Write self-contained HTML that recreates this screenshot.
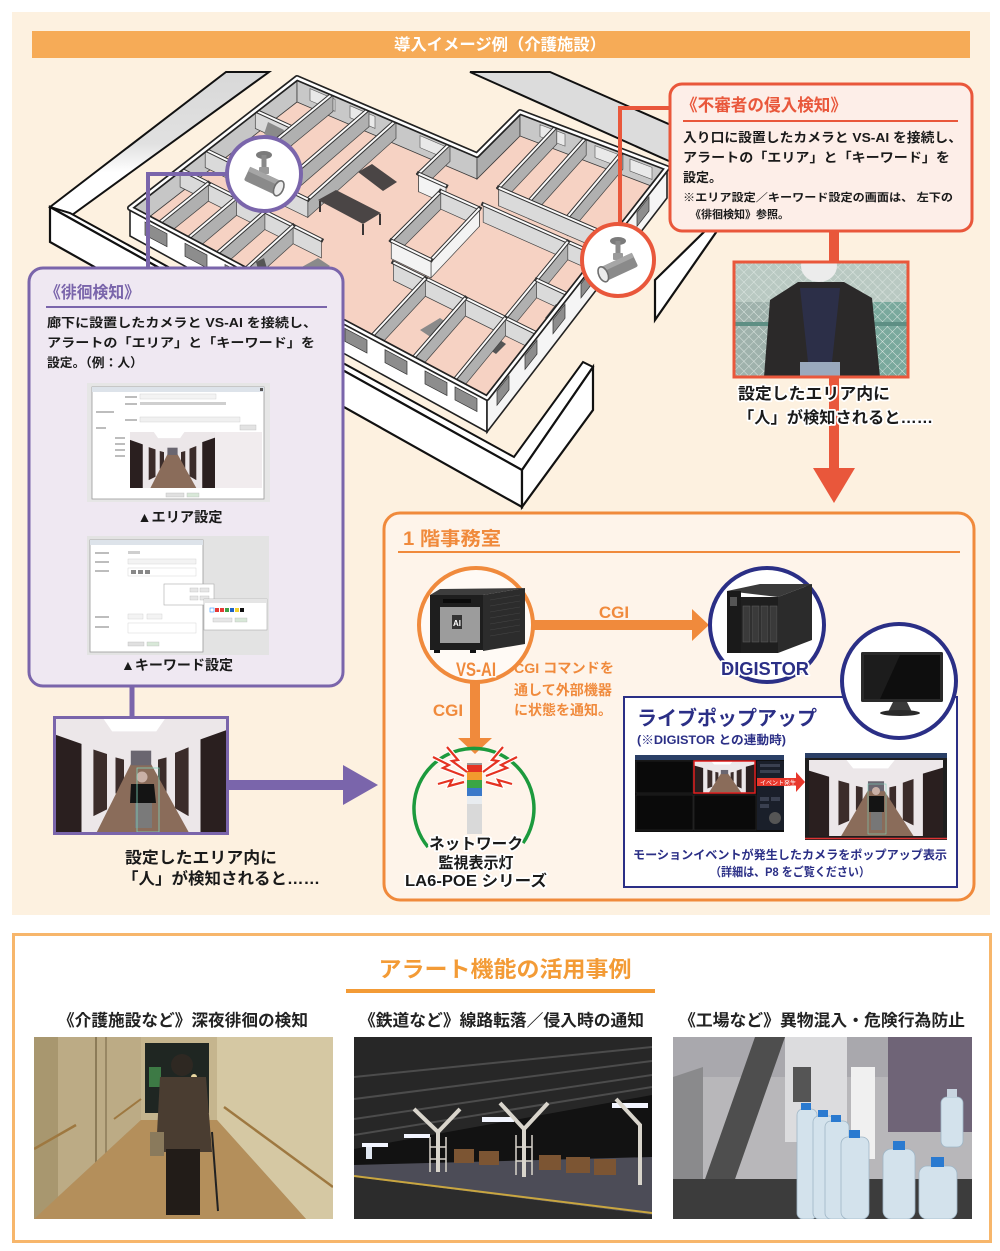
<!DOCTYPE html>
<html><head><meta charset="utf-8">
<style>
html,body{margin:0;padding:0;background:#fff;}
svg{display:block;}
text{font-family:"Liberation Sans","Noto Sans CJK JP",sans-serif;}
.b{font-weight:700;}
.halo{paint-order:stroke;stroke:#fff;stroke-width:3.5px;stroke-linejoin:round;}
.fu{fill:#dadada;stroke:#444;stroke-width:0.7;}
.fv{fill:#b0b0b0;stroke:#444;stroke-width:0.7;}
.fw{fill:#f3f3f3;stroke:#444;stroke-width:0.7;}
.t1{stroke:#333;stroke-width:4;fill:none;stroke-linecap:square;}
.t2{stroke:#fbfbfb;stroke-width:2;fill:none;}
.win{fill:#8d8d8d;stroke:#333;stroke-width:0.7;}
.bwin{fill:#e9e9e9;stroke:#555;stroke-width:0.6;}
</style></head><body>
<svg width="1000" height="1251" viewBox="0 0 1000 1251" xmlns="http://www.w3.org/2000/svg">
<defs>
 <linearGradient id="lband" x1="0" y1="72" x2="0" y2="216" gradientUnits="userSpaceOnUse">
  <stop offset="0" stop-color="#d8d8d8"/><stop offset="0.5" stop-color="#e1e1e1"/><stop offset="0.7" stop-color="#ffffff"/>
 </linearGradient>
 <pattern id="fence" width="7" height="7" patternUnits="userSpaceOnUse" patternTransform="rotate(45)">
  <path d="M0 0 H7 M0 0 V7" stroke="#dfe8e4" stroke-width="0.9" fill="none"/>
 </pattern>
 <symbol id="corr" viewBox="0 0 100 100" preserveAspectRatio="none">
  <rect width="100" height="100" fill="#ece7e9"/>
  <polygon points="28,0 64,0 59,11 33,11" fill="#ffffff"/>
  <polygon points="0,14 15,22 15,100 0,100" fill="#2a1f1f"/>
  <polygon points="22,27 30,31 30,80 22,86" fill="#3b2c2a"/>
  <polygon points="35,34 40,36 40,63 35,66" fill="#3b2c2a"/>
  <polygon points="60,36 65,34 65,65 60,62" fill="#3b2c2a"/>
  <polygon points="70,30 78,25 78,86 70,79" fill="#3b2c2a"/>
  <polygon points="85,18 100,10 100,100 85,100" fill="#2a1f1f"/>
  <polygon points="24,100 44,40 56,40 78,100" fill="#8a6c5a"/>
  <rect x="44" y="28" width="12" height="13" fill="#6a6670"/>
 </symbol>
 <symbol id="cam" viewBox="0 0 60 60">
  <ellipse cx="30" cy="11" rx="8" ry="4" fill="#7b7b7b"/>
  <rect x="27.5" y="11" width="5" height="15" fill="#8a8a8a"/>
  <rect x="25" y="23" width="10" height="7" rx="1" fill="#9a9a9a"/>
  <g transform="rotate(25 30 38)">
   <rect x="11" y="30" width="35" height="15" rx="2" fill="#8a8a8a"/>
   <rect x="11" y="30" width="35" height="5" fill="#a6a6a6"/>
   <ellipse cx="46" cy="37.5" rx="4.5" ry="8" fill="#ececec" stroke="#6e6e6e" stroke-width="1.6"/>
  </g>
 </symbol>
</defs>

<rect x="12" y="12" width="978" height="903" fill="#fdf1e0"/>
<rect x="32" y="31" width="938" height="27" fill="#f6ab57"/>
<text x="500" y="50" text-anchor="middle" font-size="16" fill="#fff" class="b" textLength="212" lengthAdjust="spacingAndGlyphs">導入イメージ例（介護施設）</text>

<!-- site outer walls -->
<polygon points="50,207 226,72 269,72 72,215" fill="url(#lband)" stroke="#111" stroke-width="2"/>
<polygon points="470,72 550,72 680,129 680,166" fill="#dcdcdc" stroke="#111" stroke-width="2"/>
<polygon points="50,207 522,470 593,367 583,362 514,457 70,213" fill="#fff" stroke="#111" stroke-width="2"/>
<polygon points="50,207 522,470 522,507 50,242" fill="#fff" stroke="#111" stroke-width="2.2"/>
<polygon points="522,470 593,367 593,410 522,507" fill="#fff" stroke="#111" stroke-width="2.2"/>
<polygon points="655,280 705,231 717,231 655,320" fill="#fff" stroke="#111" stroke-width="2.2"/>

<!-- building floor -->
<polygon points="130,208 297,78 477,155 520,112 667,168 487,398" fill="#f6d2c3"/>
<polygon points="130,208 297,78 297,102 130,232" fill="#c6c6c6" stroke="#3b3b3b" stroke-width="0.8"/>
<polygon points="297,78 477,155 477,179 297,102" fill="#c8c8c8" stroke="#3b3b3b" stroke-width="0.8"/>
<polygon points="310,88.6 335,99.3 335,111.3 310,100.6" class="bwin"/>
<polygon points="350,105.7 375,116.4 375,128.4 350,117.7" class="bwin"/>
<polygon points="420,135.6 445,146.3 445,158.3 420,147.6" class="bwin"/>
<polygon points="477,155 520,112 520,136 477,179" fill="#adadad" stroke="#3b3b3b" stroke-width="0.8"/>
<polygon points="520,112 667,168 667,192 520,136" fill="#c8c8c8" stroke="#3b3b3b" stroke-width="0.8"/>
<polygon points="540,124.6 565,134.1 565,146.1 540,136.6" class="bwin"/>
<polygon points="595,145.6 618,154.4 618,166.4 595,157.6" class="bwin"/>
<polygon points="630,159 652,167.4 652,179.4 630,171" class="bwin"/>

<!-- interior walls -->
<path class="fu" d="M255.3 110.5 L291.9 127.2 L291.9 145.2 L255.3 128.5 Z"/><path class="t1" d="M255.3 110.5 L291.9 127.2"/><path class="t2" d="M255.3 110.5 L291.9 127.2"/>
<g fill="#8a8a8a"><polygon points="268,122 284,130 280,142 264,134"/></g>
<path class="fv" d="M418.6 173.7 L450 143.5 L450 161.5 L418.6 191.7 Z"/><path class="t1" d="M418.6 173.7 L450 143.5"/><path class="t2" d="M418.6 173.7 L450 143.5"/>
<path class="fw" d="M418.6 173.7 L446 186 L446 204 L418.6 191.7 Z"/><path class="t1" d="M418.6 173.7 L446 186"/><path class="t2" d="M418.6 173.7 L446 186"/>
<path class="fv" d="M242.5 167.7 L333 93.4 L333 111.4 L242.5 185.7 Z"/><path class="t1" d="M242.5 167.7 L333 93.4"/><path class="t2" d="M242.5 167.7 L333 93.4"/>
<path class="fv" d="M279.8 185.8 L369 108.8 L369 126.8 L279.8 203.8 Z"/><path class="t1" d="M279.8 185.8 L369 108.8"/><path class="t2" d="M279.8 185.8 L369 108.8"/>
<path class="fv" d="M307.8 199.4 L396 120.4 L396 138.4 L307.8 217.4 Z"/><path class="t1" d="M307.8 199.4 L396 120.4"/><path class="t2" d="M307.8 199.4 L396 120.4"/>
<path class="fv" d="M498.7 187.8 L556.8 126 L556.8 144 L498.7 205.8 Z"/><path class="t1" d="M498.7 187.8 L556.8 126"/><path class="t2" d="M498.7 187.8 L556.8 126"/>
<path class="fv" d="M529.2 200.9 L586.2 137.2 L586.2 155.2 L529.2 218.9 Z"/><path class="t1" d="M529.2 200.9 L586.2 137.2"/><path class="t2" d="M529.2 200.9 L586.2 137.2"/>
<path class="fv" d="M567.3 217.3 L622.9 151.2 L622.9 169.2 L567.3 235.3 Z"/><path class="t1" d="M567.3 217.3 L622.9 151.2"/><path class="t2" d="M567.3 217.3 L622.9 151.2"/>
<path class="fu" d="M205.2 149.5 L307.8 199.4 L307.8 217.4 L205.2 167.5 Z"/><path class="t1" d="M205.2 149.5 L307.8 199.4"/><path class="t2" d="M205.2 149.5 L307.8 199.4"/>
<path class="fu" d="M498.7 187.8 L613 237 L613 255 L498.7 205.8 Z"/><path class="t1" d="M498.7 187.8 L613 237"/><path class="t2" d="M498.7 187.8 L613 237"/>
<path class="fu" d="M483.2 204.3 L598.6 255.4 L598.6 273.4 L483.2 222.3 Z"/><path class="t1" d="M483.2 204.3 L598.6 255.4"/><path class="t2" d="M483.2 204.3 L598.6 255.4"/>
<path class="fv" d="M391.3 240.7 L440.8 191.2 L440.8 209.2 L391.3 258.7 Z"/><path class="t1" d="M391.3 240.7 L440.8 191.2"/><path class="t2" d="M391.3 240.7 L440.8 191.2"/>
<path class="fu" d="M440.8 191.2 L479.4 208.4 L479.4 226.4 L440.8 209.2 Z"/><path class="t1" d="M440.8 191.2 L479.4 208.4"/><path class="t2" d="M440.8 191.2 L479.4 208.4"/>
<path class="fw" d="M431 259.9 L479.4 208.4 L479.4 226.4 L431 277.9 Z"/><path class="t1" d="M431 259.9 L479.4 208.4"/><path class="t2" d="M431 259.9 L479.4 208.4"/>
<path class="fw" d="M391.3 240.7 L431 259.9 L431 277.9 L391.3 258.7 Z"/><path class="t1" d="M391.3 240.7 L431 259.9"/><path class="t2" d="M391.3 240.7 L431 259.9"/>
<polygon points="358,172 372,164 397,182 383,191" fill="#4a4545"/>
<polygon points="318,200 336,190 381,213 363,224" fill="#4a4545"/>
<path d="M320 201 V212 M363 224 V235 M380 214 V225" stroke="#3a3535" stroke-width="2"/>
<path class="fu" d="M180.1 169 L321.4 239.9 L321.4 257.9 L180.1 187 Z"/><path class="t1" d="M180.1 169 L321.4 239.9"/><path class="t2" d="M180.1 169 L321.4 239.9"/>
<path class="fv" d="M158.8 223.3 L208.4 183.2 L208.4 201.2 L158.8 241.3 Z"/><path class="t1" d="M158.8 223.3 L208.4 183.2"/><path class="t2" d="M158.8 223.3 L208.4 183.2"/>
<path class="fv" d="M187.6 238.6 L236.6 197.3 L236.6 215.3 L187.6 256.6 Z"/><path class="t1" d="M187.6 238.6 L236.6 197.3"/><path class="t2" d="M187.6 238.6 L236.6 197.3"/>
<path class="fv" d="M216.4 253.9 L264.9 211.5 L264.9 229.5 L216.4 271.9 Z"/><path class="t1" d="M216.4 253.9 L264.9 211.5"/><path class="t2" d="M216.4 253.9 L264.9 211.5"/>
<polygon points="300,268 318,258 330,266 312,276" fill="#8a8a8a"/>
<path class="fv" d="M245.2 269.2 L293.1 225.7 L293.1 243.7 L245.2 287.2 Z"/><path class="t1" d="M245.2 269.2 L293.1 225.7"/><path class="t2" d="M245.2 269.2 L293.1 225.7"/>
<polygon points="256,262 264,258 268,272 260,276" fill="#555"/>
<path class="fv" d="M505.4 317.8 L567.8 241.8 L567.8 259.8 L505.4 335.8 Z"/><path class="t1" d="M505.4 317.8 L567.8 241.8"/><path class="t2" d="M505.4 317.8 L567.8 241.8"/>
<path class="fu" d="M536.6 279.8 L568 294.5 L568 312.5 L536.6 297.8 Z"/><path class="t1" d="M536.6 279.8 L568 294.5"/><path class="t2" d="M536.6 279.8 L568 294.5"/>
<polygon points="545,318 556,304 561,307 550,321" fill="#555"/>
<path class="fu" d="M393.4 262.5 L537.4 333.6 L537.4 351.6 L393.4 280.5 Z"/><path class="t1" d="M393.4 262.5 L537.4 333.6"/><path class="t2" d="M393.4 262.5 L537.4 333.6"/>
<path class="fv" d="M371.5 336.4 L425.4 278.3 L425.4 296.3 L371.5 354.4 Z"/><path class="t1" d="M371.5 336.4 L425.4 278.3"/><path class="t2" d="M371.5 336.4 L425.4 278.3"/>
<polygon points="420,330 440,318 452,326 432,338" fill="#8a8a8a"/>
<path class="fv" d="M412.8 358.4 L465.4 298 L465.4 316 L412.8 376.4 Z"/><path class="t1" d="M412.8 358.4 L465.4 298"/><path class="t2" d="M412.8 358.4 L465.4 298"/>
<polygon points="490,350 500,340 506,344 496,354" fill="#555"/>
<path class="fv" d="M454 380.4 L505.4 317.8 L505.4 335.8 L454 398.4 Z"/><path class="t1" d="M454 380.4 L505.4 317.8"/><path class="t2" d="M454 380.4 L505.4 317.8"/>

<!-- building front faces -->
<polygon points="130,208 487,398 487,432 130,236" fill="#fff" stroke="#222" stroke-width="1.6"/>
<polygon points="487,398 667,168 667,198 487,432" fill="#f5f5f5" stroke="#222" stroke-width="1.6"/>
<polygon class="win" points="145,222 167,233.7 167,246.7 145,235"/>
<polygon class="win" points="185,243.3 207,255 207,268 185,256.3"/>
<polygon class="win" points="225,264.5 247,276.2 247,289.2 225,277.5"/>
<polygon class="win" points="265,285.8 287,297.5 287,310.5 265,298.8"/>
<polygon class="win" points="305,307.1 327,318.8 327,331.8 305,320.1"/>
<polygon class="win" points="345,328.4 367,340.1 367,353.1 345,341.4"/>
<polygon class="win" points="385,349.7 407,361.4 407,374.4 385,362.7"/>
<polygon class="win" points="425,370.9 447,382.6 447,395.6 425,383.9"/>
<polygon class="win" points="455,386.9 477,398.6 477,411.6 455,399.9"/>
<polygon class="win" points="497,391.2 509,375.9 509,389.9 497,405.2"/>
<polygon class="win" points="525,355.4 537,340.1 537,354.1 525,369.4"/>
<polygon class="win" points="553,319.7 565,304.3 565,318.3 553,333.7"/>
<polygon class="win" points="581,283.9 593,268.5 593,282.5 581,297.9"/>
<polygon class="win" points="609,248.1 621,232.7 621,246.7 609,262.1"/>
<polygon class="win" points="637,212.3 649,197 649,211 637,226.3"/>
<path d="M130 208 L297 78 L477 155 L520 112 L667 168 L487 398 Z" stroke="#222" stroke-width="6" fill="none" stroke-linejoin="round"/>
<path d="M130 208 L297 78 L477 155 L520 112 L667 168 L487 398 Z" stroke="#fff" stroke-width="2.6" fill="none" stroke-linejoin="round"/>

<!-- connectors to cameras -->
<polyline points="228,174 148,174 148,270" fill="none" stroke="#7a65ab" stroke-width="4"/>
<polyline points="672,108 620,108 620,226" fill="none" stroke="#e9573b" stroke-width="4"/>
<circle cx="264" cy="174" r="37" fill="#fff" stroke="#7a65ab" stroke-width="4"/>
<use href="#cam" x="234" y="144" width="60" height="60"/>
<circle cx="618" cy="260" r="36" fill="#fff" stroke="#e9573b" stroke-width="4"/>
<use href="#cam" x="0" y="0" width="60" height="60" transform="translate(648 230) scale(-1 1)"/>

<!-- right callout -->
<rect x="670" y="84" width="302" height="147" rx="12" fill="#fdeee8" stroke="#e9573b" stroke-width="3"/>
<text x="681" y="111" font-size="17" fill="#e9573b" class="b" textLength="166" lengthAdjust="spacingAndGlyphs">《不審者の侵入検知》</text>
<line x1="683" y1="121" x2="958" y2="121" stroke="#e9573b" stroke-width="2"/>
<text x="683" y="142" font-size="13" fill="#1a1a1a" class="b" textLength="279" lengthAdjust="spacingAndGlyphs">入り口に設置したカメラと VS-AI を接続し、</text>
<text x="683" y="162" font-size="13" fill="#1a1a1a" class="b" textLength="267" lengthAdjust="spacingAndGlyphs">アラートの「エリア」と「キーワード」を</text>
<text x="683" y="182" font-size="13" fill="#1a1a1a" class="b">設定。</text>
<text x="683" y="201" font-size="11" fill="#1a1a1a" class="b" textLength="270" lengthAdjust="spacingAndGlyphs">※エリア設定／キーワード設定の画面は、 左下の</text>
<text x="690" y="218" font-size="11" fill="#1a1a1a" class="b">《徘徊検知》参照。</text>

<rect x="829" y="231" width="10" height="32" fill="#e9573b"/>
<rect x="829" y="376" width="10" height="94" fill="#e9573b"/>
<polygon points="813,468 855,468 834,503" fill="#e9573b"/>
<svg x="734" y="262" width="174" height="115">
 <rect width="174" height="115" fill="#7aa99d"/>
 <rect width="174" height="40" fill="#b9c9c2"/>
 <rect x="0" y="40" width="40" height="75" fill="#9fb2ac"/>
 <rect width="174" height="115" fill="url(#fence)"/>
 <rect x="0" y="60" width="174" height="4" fill="#5e8f84"/>
 <polygon points="36,38 64,20 110,20 138,36 146,115 30,115" fill="#2b2929"/>
 <polygon points="66,26 106,26 98,100 74,100" fill="#2c2f48"/>
 <ellipse cx="85" cy="4" rx="18" ry="16" fill="#ececec"/>
 <rect x="66" y="100" width="40" height="15" fill="#9aa9bd"/>
</svg>
<rect x="734" y="262" width="174" height="115" fill="none" stroke="#e9573b" stroke-width="3"/>
<text x="738" y="399" font-size="16" fill="#1a1a1a" class="b halo" textLength="152" lengthAdjust="spacingAndGlyphs">設定したエリア内に</text>
<text x="738" y="423" font-size="16" fill="#1a1a1a" class="b halo" textLength="195" lengthAdjust="spacingAndGlyphs">「人」が検知されると……</text>

<!-- left purple callout -->
<rect x="29" y="268" width="314" height="418" rx="14" fill="#efe8f2" stroke="#7a65ab" stroke-width="3"/>
<text x="45" y="298" font-size="16.5" fill="#7a65ab" class="b" textLength="95" lengthAdjust="spacingAndGlyphs">《徘徊検知》</text>
<line x1="46" y1="307" x2="327" y2="307" stroke="#7a65ab" stroke-width="2"/>
<text x="47" y="327" font-size="12.5" fill="#1a1a1a" class="b" textLength="270" lengthAdjust="spacingAndGlyphs">廊下に設置したカメラと VS-AI を接続し、</text>
<text x="47" y="347" font-size="12.5" fill="#1a1a1a" class="b" textLength="268" lengthAdjust="spacingAndGlyphs">アラートの「エリア」と「キーワード」を</text>
<text x="47" y="367" font-size="12.5" fill="#1a1a1a" class="b" textLength="96" lengthAdjust="spacingAndGlyphs">設定。（例：人）</text>
<rect x="87" y="383" width="183" height="119" fill="#e6e6e6"/>
<rect x="92" y="387" width="172" height="112" fill="#fff" stroke="#9a9a9a" stroke-width="0.8"/>
<rect x="92" y="387" width="172" height="5" fill="#dde3ea"/>
<rect x="260" y="388" width="3" height="3" fill="#555"/>
<g fill="#bdbdbd"><rect x="125" y="396" width="12" height="2"/><rect x="125" y="403" width="12" height="2"/><rect x="96" y="411" width="18" height="2"/><rect x="125" y="419" width="12" height="2"/><rect x="96" y="427" width="10" height="2"/><rect x="115" y="437" width="10" height="2"/><rect x="115" y="443" width="10" height="2"/><rect x="115" y="449" width="10" height="2"/><rect x="115" y="455" width="10" height="2"/></g>
<rect x="140" y="394" width="76" height="5" fill="#f3f3f3" stroke="#ccc" stroke-width="0.4"/>
<rect x="140" y="402" width="86" height="3" fill="#cfcfcf"/>
<rect x="140" y="417" width="100" height="5" fill="#f0f0f0" stroke="#ccc" stroke-width="0.4"/>
<rect x="240" y="425" width="16" height="5" fill="#e3e3e3" stroke="#bbb" stroke-width="0.4"/>
<rect x="130" y="432" width="132" height="56" fill="#f1ecee"/>
<use href="#corr" x="130" y="432" width="85" height="56"/>
<rect x="166" y="493" width="18" height="4" fill="#e0e0e0" stroke="#bbb" stroke-width="0.4"/>
<rect x="187" y="493" width="12" height="4" fill="#d8e8d8" stroke="#bbb" stroke-width="0.4"/>
<text x="180" y="522" text-anchor="middle" font-size="14" fill="#1a1a1a" class="b" textLength="85" lengthAdjust="spacingAndGlyphs">▲エリア設定</text>
<rect x="87" y="536" width="182" height="119" fill="#e3e3e3"/>
<rect x="90" y="540" width="113" height="112" fill="#fff" stroke="#9a9a9a" stroke-width="0.8"/>
<rect x="90" y="540" width="113" height="5" fill="#dde3ea"/>
<g fill="#bdbdbd"><rect x="95" y="552" width="14" height="2"/><rect x="95" y="561" width="14" height="2"/><rect x="95" y="570" width="14" height="2"/><rect x="95" y="616" width="14" height="2"/><rect x="95" y="626" width="14" height="2"/></g>
<rect x="128" y="551" width="12" height="3" fill="#cfcfcf"/>
<rect x="128" y="559" width="68" height="5" fill="#f3f3f3" stroke="#ccc" stroke-width="0.4"/>
<rect x="128" y="568" width="68" height="8" fill="#fff" stroke="#ccc" stroke-width="0.4"/>
<g fill="#888"><rect x="131" y="570" width="5" height="4"/><rect x="138" y="570" width="5" height="4"/><rect x="145" y="570" width="5" height="4"/></g>
<rect x="128" y="614" width="15" height="5" fill="#f3f3f3" stroke="#ccc" stroke-width="0.4"/>
<rect x="147" y="614" width="15" height="5" fill="#f3f3f3" stroke="#ccc" stroke-width="0.4"/>
<rect x="128" y="623" width="68" height="10" fill="#fff" stroke="#ccc" stroke-width="0.4"/>
<rect x="128" y="642" width="16" height="4" fill="#e0e0e0" stroke="#bbb" stroke-width="0.4"/>
<rect x="147" y="642" width="12" height="4" fill="#d8e8d8" stroke="#bbb" stroke-width="0.4"/>
<rect x="164" y="584" width="50" height="21" fill="#fff" stroke="#aaa" stroke-width="0.6"/>
<g fill="#e6e6e6" stroke="#bbb" stroke-width="0.4"><rect x="190" y="588" width="8" height="4"/><rect x="200" y="588" width="9" height="4"/><rect x="190" y="596" width="8" height="4"/><rect x="200" y="596" width="9" height="4"/></g>
<rect x="204" y="599" width="63" height="31" fill="#fff" stroke="#aaa" stroke-width="0.6"/>
<rect x="204" y="599" width="63" height="4" fill="#e5e5e5"/>
<rect x="210" y="608" width="4" height="4" fill="#fff" stroke="#39f" stroke-width="0.6"/>
<rect x="215" y="608" width="4" height="4" fill="#e53935"/>
<rect x="220" y="608" width="4" height="4" fill="#e53935"/>
<rect x="225" y="608" width="4" height="4" fill="#43a047"/>
<rect x="230" y="608" width="4" height="4" fill="#1e63c6"/>
<rect x="235" y="608" width="4" height="4" fill="#f2d230"/>
<rect x="240" y="608" width="4" height="4" fill="#111"/>
<rect x="213" y="618" width="19" height="4" fill="#e6e6e6" stroke="#bbb" stroke-width="0.4"/>
<rect x="235" y="618" width="12" height="4" fill="#d8e8d8" stroke="#bbb" stroke-width="0.4"/>
<text x="177" y="670" text-anchor="middle" font-size="14" fill="#1a1a1a" class="b" textLength="112" lengthAdjust="spacingAndGlyphs">▲キーワード設定</text>

<rect x="129.5" y="686" width="5" height="32" fill="#7a65ab"/>
<use href="#corr" x="56" y="719" width="170" height="113"/>
<circle cx="142" cy="777" r="5.5" fill="#c9b0a6"/>
<polygon points="131,784 154,784 156,803 130,803" fill="#141414"/>
<rect x="135" y="803" width="17" height="25" fill="#7a7a7a"/>
<rect x="137" y="768" width="22" height="64" fill="none" stroke="#7fd1b9" stroke-width="0.8"/>
<rect x="54.5" y="717.5" width="173" height="116" fill="none" stroke="#7a65ab" stroke-width="3"/>
<rect x="228" y="780" width="117" height="10" fill="#7a65ab"/>
<polygon points="343,765 378,785 343,805" fill="#7a65ab"/>
<text x="125" y="863" font-size="16" fill="#1a1a1a" class="b" textLength="152" lengthAdjust="spacingAndGlyphs">設定したエリア内に</text>
<text x="122" y="884" font-size="16" fill="#1a1a1a" class="b" textLength="198" lengthAdjust="spacingAndGlyphs">「人」が検知されると……</text>

<!-- office box -->
<rect x="384" y="513" width="590" height="387" rx="16" fill="#fef4ea" stroke="#f08a3c" stroke-width="3"/>
<text x="403" y="545" font-size="19" fill="#f08a3c" class="b" textLength="98" lengthAdjust="spacingAndGlyphs">1 階事務室</text>
<line x1="398" y1="552" x2="960" y2="552" stroke="#f08a3c" stroke-width="2"/>
<rect x="533" y="620" width="162" height="10" fill="#f08a3c"/>
<polygon points="692,609 709,625 692,641" fill="#f08a3c"/>
<text x="614" y="618" text-anchor="middle" font-size="17" fill="#f08a3c" class="b">CGI</text>
<rect x="470" y="682" width="10" height="58" fill="#f08a3c"/>
<polygon points="458,738 492,738 475,754" fill="#f08a3c"/>
<text x="448" y="716" text-anchor="middle" font-size="17" fill="#f08a3c" class="b">CGI</text>
<text x="514" y="673" font-size="14" fill="#f08a3c" class="b" textLength="100" lengthAdjust="spacingAndGlyphs">CGI コマンドを</text>
<text x="514" y="695" font-size="14" fill="#f08a3c" class="b" textLength="98" lengthAdjust="spacingAndGlyphs">通して外部機器</text>
<text x="514" y="715" font-size="14" fill="#f08a3c" class="b" textLength="98" lengthAdjust="spacingAndGlyphs">に状態を通知。</text>

<circle cx="476" cy="625" r="57" fill="#fffaf5" stroke="#f08a3c" stroke-width="4"/>
<polygon points="430,595 440,589 525,588 483,595" fill="#3d3d3d"/>
<rect x="430" y="595" width="53" height="55" fill="#1e1e1e"/>
<polygon points="483,595 525,588 525,644 483,651" fill="#2c2c2c"/>
<g stroke="#444" stroke-width="0.6"><path d="M490 600 L520 595 M490 606 L520 601 M490 612 L520 607 M490 618 L520 613 M490 624 L520 619 M490 630 L520 625 M490 636 L520 631"/></g>
<rect x="440" y="607" width="40" height="36" fill="#9c9c9c"/>
<rect x="443" y="599" width="28" height="4" fill="#0b0b0b"/>
<rect x="452" y="615" width="10" height="14" fill="#333"/>
<text x="457" y="626" text-anchor="middle" font-size="8" fill="#fff" class="b">AI</text>
<rect x="434" y="650" width="6" height="3" fill="#111"/><rect x="470" y="650" width="6" height="3" fill="#111"/>
<text x="476" y="676" text-anchor="middle" font-size="19" fill="#f08a3c" class="b" style="font-family:'Liberation Sans Narrow','Liberation Sans',sans-serif;paint-order:stroke;stroke:#fffaf5;stroke-width:3px;" textLength="40" lengthAdjust="spacingAndGlyphs">VS-AI</text>

<circle cx="767" cy="625" r="57" fill="#fff" stroke="#2b2f86" stroke-width="4"/>
<polygon points="727,591 760,584 812,584 778,597" fill="#3a3a3a"/>
<rect x="727" y="591" width="14" height="62" fill="#1a1a1a"/>
<rect x="741" y="597" width="37" height="56" fill="#1f1f1f"/>
<polygon points="778,597 812,584 812,640 778,653" fill="#2b2b2b"/>
<g fill="#3a3a3a" stroke="#5a5a5a" stroke-width="0.6"><rect x="743" y="606" width="7" height="36"/><rect x="752" y="606" width="7" height="36"/><rect x="761" y="606" width="7" height="36"/><rect x="770" y="606" width="7" height="36"/></g>
<rect x="730" y="597" width="7" height="9" fill="#555"/>
<text x="765" y="675" text-anchor="middle" font-size="18" fill="#2b2f86" class="b halo" textLength="88" lengthAdjust="spacingAndGlyphs">DIGISTOR</text>

<rect x="624" y="697" width="333" height="190" fill="#fff" stroke="#2b2f86" stroke-width="2"/>
<text x="637" y="725" font-size="20" fill="#2b2f86" class="b" textLength="180" lengthAdjust="spacingAndGlyphs">ライブポップアップ</text>
<text x="637" y="744" font-size="12" fill="#2b2f86" class="b" textLength="149" lengthAdjust="spacingAndGlyphs">(※DIGISTOR との連動時)</text>
<rect x="635" y="755" width="149" height="77" fill="#101010"/>
<rect x="635" y="755" width="149" height="5" fill="#2a3f66"/>
<rect x="636" y="761" width="57" height="32" fill="#0a0a0a" stroke="#333" stroke-width="0.5"/>
<rect x="636" y="795" width="57" height="35" fill="#0a0a0a" stroke="#333" stroke-width="0.5"/>
<rect x="694" y="795" width="62" height="35" fill="#0a0a0a" stroke="#333" stroke-width="0.5"/>
<rect x="757" y="761" width="27" height="69" fill="#1a1f2a"/>
<g fill="#3a4050"><rect x="760" y="764" width="20" height="3"/><rect x="760" y="770" width="20" height="3"/><rect x="760" y="797" width="9" height="4"/><rect x="771" y="797" width="9" height="4"/><rect x="760" y="804" width="9" height="4"/></g>
<circle cx="775" cy="818" r="6" fill="#555"/>
<use href="#corr" x="694" y="761" width="61" height="32"/>
<rect x="694" y="761" width="61" height="32" fill="none" stroke="#e01f1f" stroke-width="1.5"/>
<polygon points="757,778 796,778 796,772 805,782 796,792 796,786 757,786" fill="#e8382c"/>
<text x="760" y="785" font-size="6" fill="#fff">イベント発生</text>
<rect x="805" y="753" width="142" height="87" fill="#1e1e1e"/>
<rect x="805" y="753" width="142" height="5" fill="#2a3f66"/>
<use href="#corr" x="809" y="760" width="134" height="76"/>
<circle cx="876" cy="791" r="4" fill="#c9b0a6"/>
<rect x="869" y="796" width="15" height="16" fill="#141414"/>
<rect x="871" y="812" width="11" height="18" fill="#777"/>
<rect x="868" y="784" width="18" height="50" fill="none" stroke="#7fd1b9" stroke-width="0.6"/>
<line x1="805" y1="838.5" x2="947" y2="838.5" stroke="#d33" stroke-width="1.5"/>
<text x="790" y="859" text-anchor="middle" font-size="12" fill="#2b2f86" class="b" textLength="314" lengthAdjust="spacingAndGlyphs">モーションイベントが発生したカメラをポップアップ表示</text>
<text x="790" y="876" text-anchor="middle" font-size="12" fill="#2b2f86" class="b" textLength="160" lengthAdjust="spacingAndGlyphs">（詳細は、P8 をご覧ください）</text>

<circle cx="899" cy="681" r="57" fill="#fff" stroke="#2b2f86" stroke-width="4"/>
<rect x="861" y="652" width="82" height="50" rx="1.5" fill="#2a2a2a"/>
<rect x="864" y="655" width="76" height="44" fill="#0e0e0e"/>
<polygon points="864,655 900,655 880,699 864,699" fill="#1c1c1c"/>
<polygon points="893,702 907,702 912,712 888,712" fill="#3a3a3a"/>
<ellipse cx="900" cy="713" rx="20" ry="3" fill="#2a2a2a"/>

<path d="M428 847 A60 60 0 1 1 523 843" fill="none" stroke="#1c9a3d" stroke-width="3.5"/>
<rect x="467" y="765" width="15" height="7" fill="#e53322"/>
<rect x="467" y="772" width="15" height="8" fill="#f29a2e"/>
<rect x="467" y="780" width="15" height="8" fill="#3aa645"/>
<rect x="467" y="788" width="15" height="8" fill="#3a78c9"/>
<rect x="467" y="796" width="15" height="8" fill="#e8ecf0"/>
<rect x="467" y="804" width="15" height="30" fill="#d9d9d9"/>
<rect x="467" y="763" width="15" height="2" fill="#999"/>
<g fill="none" stroke-linejoin="miter">
 <g stroke="#fff" stroke-width="4.5">
  <polyline points="447,747 458,760 452,761 467,772"/>
  <polyline points="433,757 449,765 443,768 464,776"/>
  <polyline points="438,784 452,780 449,786 464,782"/>
  <polyline points="503,747 492,760 498,761 483,772"/>
  <polyline points="517,757 501,765 507,768 486,776"/>
  <polyline points="512,784 498,780 501,786 486,782"/>
 </g>
 <g stroke="#e53322" stroke-width="2.2">
  <polyline points="447,747 458,760 452,761 467,772"/>
  <polyline points="433,757 449,765 443,768 464,776"/>
  <polyline points="438,784 452,780 449,786 464,782"/>
  <polyline points="503,747 492,760 498,761 483,772"/>
  <polyline points="517,757 501,765 507,768 486,776"/>
  <polyline points="512,784 498,780 501,786 486,782"/>
 </g>
</g>
<text x="476" y="849" text-anchor="middle" font-size="15.5" fill="#1a1a1a" class="b halo" textLength="94" lengthAdjust="spacingAndGlyphs">ネットワーク</text>
<text x="476" y="868" text-anchor="middle" font-size="15.5" fill="#1a1a1a" class="b halo" textLength="75" lengthAdjust="spacingAndGlyphs">監視表示灯</text>
<text x="476" y="886" text-anchor="middle" font-size="15.5" fill="#1a1a1a" class="b halo" textLength="142" lengthAdjust="spacingAndGlyphs">LA6-POE シリーズ</text>

<!-- bottom section -->
<rect x="13.5" y="934.5" width="977" height="307" fill="#fff" stroke="#f7b66b" stroke-width="3"/>
<text x="505" y="977" text-anchor="middle" font-size="22" fill="#f39b36" class="b" textLength="253" lengthAdjust="spacingAndGlyphs">アラート機能の活用事例</text>
<rect x="346" y="989" width="309" height="4" fill="#f39b36"/>
<text x="58" y="1026" font-size="16.5" fill="#222" class="b" textLength="250" lengthAdjust="spacingAndGlyphs">《介護施設など》深夜徘徊の検知</text>
<text x="359" y="1026" font-size="16.5" fill="#222" class="b" textLength="285" lengthAdjust="spacingAndGlyphs">《鉄道など》線路転落／侵入時の通知</text>
<text x="679" y="1026" font-size="16.5" fill="#222" class="b" textLength="286" lengthAdjust="spacingAndGlyphs">《工場など》異物混入・危険行為防止</text>

<svg x="34" y="1037" width="299" height="182">
 <rect width="299" height="182" fill="#a99672"/>
 <polygon points="0,0 107,0 107,83 0,182" fill="#bcab85"/>
 <polygon points="0,0 24,0 24,160 0,182" fill="#a8976f"/>
 <line x1="62" y1="0" x2="62" y2="128" stroke="#8c7b58" stroke-width="2"/>
 <line x1="72" y1="0" x2="72" y2="118" stroke="#8c7b58" stroke-width="1.5"/>
 <rect x="107" y="0" width="76" height="83" fill="#c5b58e"/>
 <rect x="111" y="6" width="64" height="70" fill="#1f2622"/>
 <rect x="115" y="30" width="12" height="20" fill="#3d7a45"/>
 <circle cx="160" cy="40" r="3" fill="#e8d7a0"/>
 <polygon points="183,0 299,0 299,182 272,182 183,83" fill="#d5c8a3"/>
 <polygon points="0,182 107,83 183,83 272,182" fill="#b48f5b"/>
 <line x1="190" y1="70" x2="299" y2="150" stroke="#9e7840" stroke-width="2.5"/>
 <line x1="0" y1="112" x2="42" y2="88" stroke="#9e7840" stroke-width="2.5"/>
 <line x1="80" y1="82" x2="107" y2="62" stroke="#9e7840" stroke-width="2"/>
 <circle cx="148" cy="28" r="11" fill="#2e2822"/>
 <polygon points="126,40 172,40 178,115 122,115" fill="#4a3d31"/>
 <rect x="132" y="112" width="34" height="66" fill="#221c18"/>
 <rect x="116" y="95" width="14" height="24" fill="#8a7a5c"/>
 <line x1="178" y1="95" x2="184" y2="174" stroke="#222" stroke-width="2"/>
</svg>
<svg x="354" y="1037" width="298" height="182">
 <rect width="298" height="182" fill="#121212"/>
 <polygon points="0,0 298,0 298,58 0,112" fill="#272727"/>
 <g stroke="#4c4c4c" stroke-width="2"><line x1="0" y1="40" x2="298" y2="10"/><line x1="0" y1="62" x2="298" y2="24"/><line x1="0" y1="82" x2="298" y2="38"/><line x1="0" y1="98" x2="298" y2="50"/></g>
 <g fill="#f2f5ff"><rect x="8" y="106" width="26" height="4"/><rect x="50" y="97" width="26" height="4"/><rect x="128" y="80" width="32" height="5"/><rect x="258" y="66" width="36" height="5"/></g>
 <polygon points="0,128 298,120 298,178 0,140" fill="#4c4c57"/>
 <polygon points="0,140 298,178 298,182 0,182" fill="#2c2c2c"/>
 <line x1="0" y1="139" x2="298" y2="176" stroke="#c9a640" stroke-width="2"/>
 <g fill="none" stroke="#d9d5cc" stroke-width="4">
  <path d="M84 135 V95 L60 72 M84 95 L106 72"/>
  <path d="M170 140 V92 L146 66 M170 92 L194 66"/>
  <path d="M286 148 V88 L262 62"/>
 </g>
 <g stroke="#d9d5cc" stroke-width="1.5"><path d="M76 100 V135 M92 100 V135 M76 110 H92 M76 122 H92 M162 98 V138 M178 98 V138 M162 110 H178 M162 124 H178"/></g>
 <g fill="#7c5533"><rect x="100" y="112" width="20" height="14"/><rect x="125" y="114" width="20" height="14"/><rect x="185" y="118" width="22" height="15"/><rect x="212" y="120" width="24" height="16"/><rect x="240" y="122" width="22" height="16"/></g>
 <rect x="12" y="110" width="6" height="12" fill="#dfe6f0"/>
</svg>
<svg x="673" y="1037" width="299" height="182">
 <rect width="299" height="182" fill="#b8b7ba"/>
 <rect x="0" y="0" width="299" height="40" fill="#a9a8ad"/>
 <polygon points="215,0 299,0 299,95 215,95" fill="#6f6477"/>
 <rect x="112" y="0" width="62" height="105" fill="#dcdcde"/>
 <rect x="120" y="30" width="18" height="35" fill="#555"/>
 <polygon points="0,40 30,30 30,182 0,182" fill="#8a8a8c"/>
 <polygon points="18,182 48,182 112,0 82,0" fill="#4e4e4e"/>
 <rect x="178" y="30" width="24" height="92" fill="#f0f0f0"/>
 <rect x="0" y="142" width="299" height="40" fill="#3c3c3c"/>
 <g fill="#d3e2ec" stroke="#9fb6c6" stroke-width="0.8">
  <rect x="124" y="72" width="20" height="110" rx="6"/>
  <rect x="140" y="79" width="22" height="103" rx="6"/>
  <rect x="152" y="84" width="24" height="98" rx="6"/>
  <rect x="168" y="100" width="28" height="82" rx="7"/>
  <rect x="210" y="112" width="32" height="70" rx="8"/>
  <rect x="246" y="129" width="38" height="53" rx="8"/>
  <rect x="268" y="60" width="22" height="50" rx="6"/>
 </g>
 <g fill="#2a7ad0"><rect x="128" y="66" width="10" height="7"/><rect x="145" y="73" width="10" height="7"/><rect x="158" y="78" width="10" height="7"/><rect x="176" y="93" width="11" height="8"/><rect x="220" y="104" width="12" height="9"/><rect x="258" y="120" width="13" height="10"/></g>
 <rect x="274" y="52" width="10" height="8" fill="#c8d4e0"/>
</svg>
</svg>
</body></html>
